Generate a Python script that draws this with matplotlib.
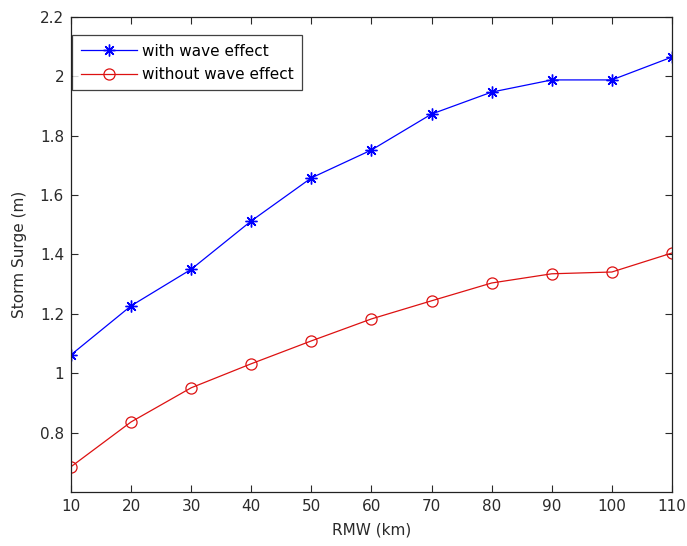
import matplotlib
matplotlib.use("Agg")
import matplotlib.pyplot as plt

plt.rcParams['font.family'] = ['DejaVu Sans']

rmw_km = [10, 20, 30, 40, 50, 60, 70, 80, 90, 100, 110]
surge_with_wave = [1.062, 1.227, 1.350, 1.513, 1.658, 1.752, 1.873, 1.947, 1.988, 1.988, 2.065]
surge_without_wave = [0.685, 0.836, 0.951, 1.032, 1.109, 1.183, 1.244, 1.304, 1.335, 1.341, 1.405]

x_ticks = [10, 20, 30, 40, 50, 60, 70, 80, 90, 100, 110]
y_ticks = [0.8, 1.0, 1.2, 1.4, 1.6, 1.8, 2.0, 2.2]
y_tick_labels = ['0.8', '1', '1.2', '1.4', '1.6', '1.8', '2', '2.2']

fig = plt.figure(figsize=(6.87, 5.46), dpi=100)
ax = fig.add_axes([0.1033, 0.0989, 0.8748, 0.8700])

# asterisk marker with eight arms
asterisk = (8, 2, 0)
ax.plot(rmw_km, surge_with_wave, color='#0000ff', lw=0.9, marker=asterisk,
        markersize=8.5, markeredgewidth=1.0, label='with wave effect')
ax.plot(rmw_km, surge_without_wave, color='#dd1111', lw=0.9, marker='o',
        markersize=8, markerfacecolor='none', markeredgewidth=0.9,
        label='without wave effect')

ax.set_xlim(10, 110)
ax.set_ylim(0.6, 2.2)
ax.set_xticks(x_ticks)
ax.set_yticks(y_ticks)
ax.set_yticklabels(y_tick_labels)
ax.tick_params(direction='in', length=5, width=0.8, top=True, right=True,
               labelsize=11, colors='#2a2a2a', pad=5)
for s in ax.spines.values():
    s.set_linewidth(0.9)
    s.set_color('#222222')

ax.set_xlabel('RMW (km)', fontsize=11, color='#2a2a2a', labelpad=6)
ax.set_ylabel('Storm Surge (m)', fontsize=11, color='#2a2a2a', labelpad=9)

leg = ax.legend(loc='upper left', bbox_to_anchor=(0.0, 0.965), fontsize=11,
                frameon=True, fancybox=False, edgecolor='#111111',
                borderpad=0.55, handlelength=3.7, handletextpad=0.3,
                labelspacing=0.55, borderaxespad=0.1)
leg.get_frame().set_linewidth(0.9)

fig.savefig('out.png', dpi=100)
